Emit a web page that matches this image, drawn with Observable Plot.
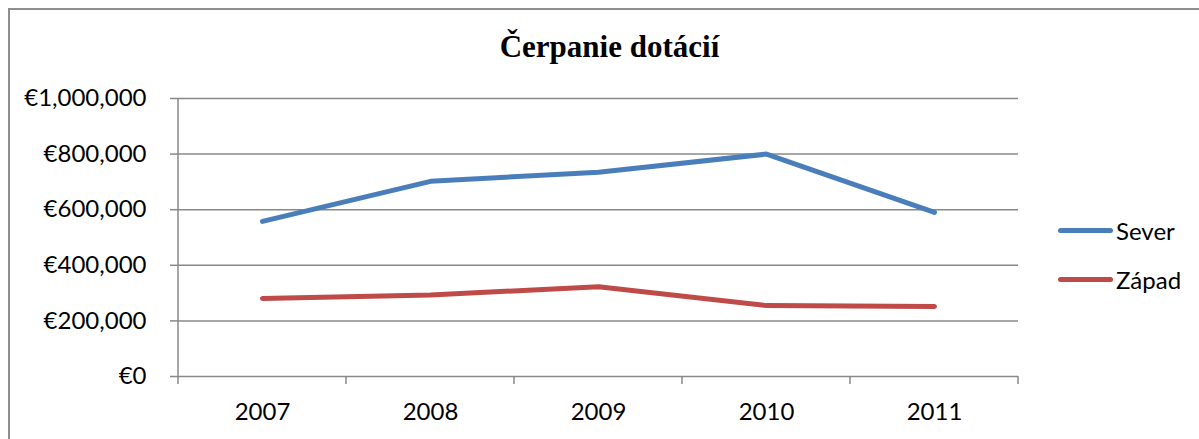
<!DOCTYPE html>
<html>
<head>
<meta charset="utf-8">
<script src="https://cdn.jsdelivr.net/npm/d3@7"></script>
<script src="https://cdn.jsdelivr.net/npm/@observablehq/plot@0.6"></script>
<style>
html,body{margin:0;padding:0;background:#fff;overflow:hidden;width:1199px;height:439px;}
#wrap{position:relative;width:1199px;height:439px;overflow:hidden;}
#frame{position:absolute;left:8px;top:8px;width:1400px;height:800px;border:2px solid #8e8e8e;box-sizing:border-box;}
#chart{position:absolute;left:0;top:0;}
#title{position:absolute;left:0;top:31px;width:1219px;text-align:center;font-family:"Liberation Serif","Times New Roman",serif;font-weight:bold;font-size:31px;line-height:31px;color:#000;}
.leg{position:absolute;left:1058px;height:29px;display:flex;align-items:center;font-family:Lato,sans-serif;font-size:24px;line-height:29px;color:#000;}
.sw{width:55px;height:5px;border-radius:3px;margin-right:3px;}
</style>
</head>
<body>
<div id="wrap">
  <div id="frame"></div>
  <div id="chart"></div>
  <div id="title"></div>
  <div id="legend"></div>
</div>
<script>
const title = "Čerpanie dotácií";
const years = ["2007", "2008", "2009", "2010", "2011"];
const seriesNames = ["Sever", "Západ"];
const seriesColors = ["#4a7ebb", "#be4b48"];
const sever = [558000, 702000, 735000, 800000, 590000];
const zapad = [281000, 293000, 323000, 255000, 252000];
const yTicks = [0, 200000, 400000, 600000, 800000, 1000000];

const data = [];
years.forEach((y, i) => {
  data.push({year: y, series: seriesNames[0], value: sever[i]});
  data.push({year: y, series: seriesNames[1], value: zapad[i]});
});

const fmt = v => "€" + d3.format(",")(v);

const plot = Plot.plot({
  width: 1199,
  height: 439,
  marginLeft: 178,
  marginRight: 181,
  marginTop: 98,
  marginBottom: 63,
  style: {fontFamily: "Lato, sans-serif", fontSize: "24px", background: "transparent", color: "#000"},
  x: {type: "point", domain: years, padding: 0.5},
  y: {domain: [0, 1000000]},
  color: {domain: seriesNames, range: seriesColors},
  marks: [
    Plot.ruleY(yTicks, {stroke: "#888", strokeWidth: 1.5}),
    Plot.axisY(yTicks, {tickSize: 8, tickPadding: 24, tickFormat: fmt, stroke: "#888", strokeWidth: 1.5, fill: "#000", fontSize: 24, label: null}),
    Plot.axisX({tickSize: 0, tickPadding: 26, fill: "#000", fontSize: 24, label: null}),
    Plot.line(data, {x: "year", y: "value", z: "series", stroke: "series", strokeWidth: 5, strokeLinecap: "round", strokeLinejoin: "round"})
  ]
});
document.getElementById("chart").appendChild(plot);

// category boundary ticks and vertical value axis line, from the plot's scales
const xs = plot.scale("x");
const ys = plot.scale("y");
const r = xs.range;
const step = xs.step || (r[1] - r[0]) / (years.length - 1 + 2 * xs.padding);
const bounds = years.map(y => xs.apply(y) - step / 2);
bounds.push(xs.apply(years[years.length - 1]) + step / 2);
const svg = d3.select(plot);
const g = svg.append("g").attr("stroke", "#888").attr("stroke-width", 1.5);
const y0 = ys.apply(0), y1 = ys.apply(1000000);
bounds.forEach(b => {
  g.append("line").attr("x1", b).attr("x2", b).attr("y1", y0).attr("y2", y0 + 8);
});
g.append("line").attr("x1", bounds[0]).attr("x2", bounds[0]).attr("y1", y1).attr("y2", y0);

document.getElementById("title").textContent = title;

const legTops = [216, 265];
const legend = document.getElementById("legend");
seriesNames.forEach((name, i) => {
  const row = document.createElement("div");
  row.className = "leg";
  row.style.top = legTops[i] + "px";
  const sw = document.createElement("div");
  sw.className = "sw";
  sw.style.background = seriesColors[i];
  const t = document.createElement("span");
  t.textContent = name;
  row.appendChild(sw);
  row.appendChild(t);
  legend.appendChild(row);
});
</script>
</body>
</html>
